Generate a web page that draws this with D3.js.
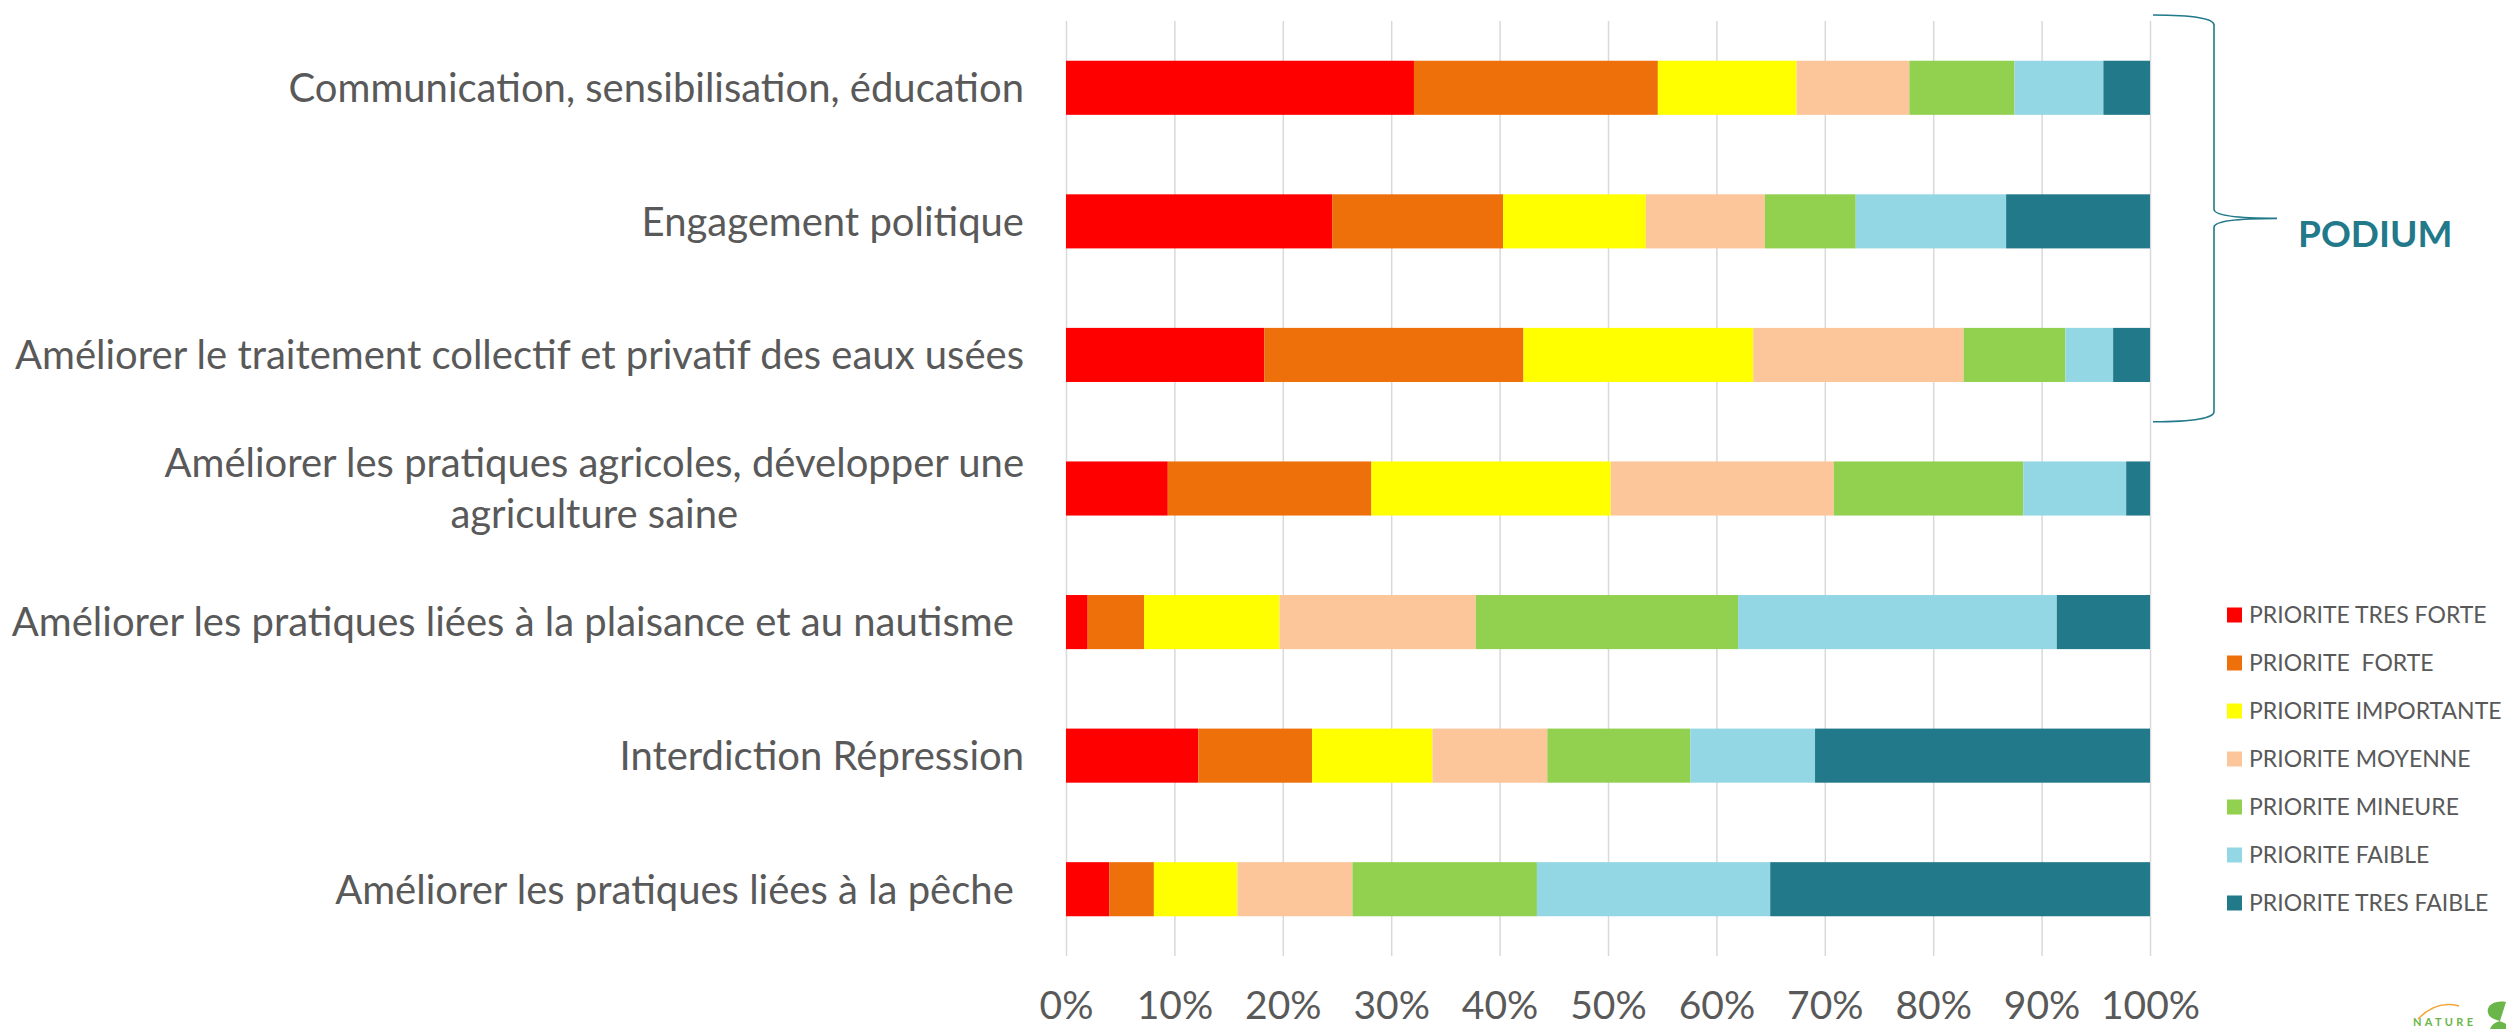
<!DOCTYPE html>
<html><head><meta charset="utf-8">
<script src="https://cdn.jsdelivr.net/npm/d3@7"></script>
<style>
body{margin:0;background:#fff}
svg{display:block}
text{font-family:Lato,'Open Sans',sans-serif;fill:#595959}
</style></head>
<body><svg id="c" width="2506" height="1029"></svg>
<script>
const categories = [
  "Communication, sensibilisation, éducation",
  "Engagement politique",
  "Améliorer le traitement collectif et privatif des eaux usées",
  "Améliorer les pratiques agricoles, développer une\nagriculture saine",
  "Améliorer les pratiques liées à la plaisance et au nautisme ",
  "Interdiction Répression",
  "Améliorer les pratiques liées à la pêche "
];
const seriesNames = ["PRIORITE TRES FORTE","PRIORITE  FORTE","PRIORITE IMPORTANTE","PRIORITE MOYENNE","PRIORITE MINEURE","PRIORITE FAIBLE","PRIORITE TRES FAIBLE"];
const seriesColors = ["#FF0000","#EE700A","#FFFF00","#FCC59A","#92D050","#93D7E4","#21798A"];
const tresForte   = [32.1, 24.6, 18.3,  9.4,  2.0, 12.2,  4.0];
const forte       = [22.5, 15.8, 23.9, 18.8,  5.2, 10.5,  4.1];
const importante  = [12.8, 13.2, 21.2, 22.1, 12.5, 11.1,  7.7];
const moyenne     = [10.4, 11.0, 19.4, 20.6, 18.1, 10.6, 10.6];
const mineure     = [ 9.7,  8.4,  9.4, 17.5, 24.2, 13.2, 17.0];
const faible      = [ 8.2, 13.9,  4.4,  9.5, 29.4, 11.5, 21.5];
const tresFaible  = [ 4.3, 13.3,  3.4,  2.2,  8.6, 30.9, 35.0];
const tickValues = [0,0.1,0.2,0.3,0.4,0.5,0.6,0.7,0.8,0.9,1];
const podiumLabel = "PODIUM";
const podiumCount = 3;

const seriesArrays = [tresForte, forte, importante, moyenne, mineure, faible, tresFaible];
const table = categories.map((c,i)=>{
  const row = {cat:c};
  seriesNames.forEach((s,j)=>row[s]=seriesArrays[j][i]);
  return row;
});

const svg = d3.select("#c");
const x = d3.scaleLinear().domain([0,1]).range([1066,2150]);
const y = d3.scaleBand().domain(categories).range([21,956]).paddingInner(0.595).paddingOuter(0.2975);
const color = d3.scaleOrdinal().domain(seriesNames).range(seriesColors);

// gridlines
const grid = svg.append("g").attr("transform","translate(0,21)")
  .call(d3.axisTop(x).tickValues(tickValues).tickSize(-935).tickFormat(""));
grid.select(".domain").remove();
grid.selectAll("line").attr("stroke","#D9D9D9").attr("stroke-width",1.5);

// bars
const stack = d3.stack().keys(seriesNames).offset(d3.stackOffsetExpand);
const layers = stack(table);
svg.append("g").selectAll("g").data(layers).join("g")
  .attr("fill",d=>color(d.key))
  .selectAll("rect").data(d=>d).join("rect")
  .attr("x",d=>x(d[0]))
  .attr("width",d=>x(d[1])-x(d[0]))
  .attr("y",d=>y(d.data.cat))
  .attr("height",y.bandwidth());

// x axis labels
const xa = svg.append("g").attr("transform","translate(0,1019)")
  .call(d3.axisBottom(x).tickValues(tickValues).tickSize(0).tickPadding(0).tickFormat(d3.format(".0%")));
xa.select(".domain").remove();
xa.selectAll("text").attr("font-size",39).attr("font-family","Lato").attr("fill","#595959").attr("dy",0);

// category labels
const labelRight = 1024;
const lineH = 51;
const fs = 40;
const lg = svg.append("g");
categories.forEach(c=>{
  const lines = c.split("\n");
  const cy = y(c)+y.bandwidth()/2;
  if(lines.length===1){
    lg.append("text").attr("x",labelRight).attr("y",cy).attr("dy","0.36em")
      .attr("text-anchor","end").attr("font-size",fs).style("white-space","pre").text(c);
  } else {
    const t = lg.append("text").attr("font-size",fs).attr("text-anchor","middle");
    lines.forEach((l,i)=>{
      t.append("tspan").attr("y",cy+(i-(lines.length-1)/2)*lineH).attr("dy","0.36em").text(l);
    });
    let w=0; t.selectAll("tspan").each(function(){w=Math.max(w,this.getComputedTextLength());});
    t.selectAll("tspan").attr("x",labelRight-w/2);
  }
});

// legend
const leg = svg.append("g").attr("transform","translate(2227,615)");
seriesNames.forEach((s,i)=>{
  const g = leg.append("g").attr("transform",`translate(0,${i*48})`);
  g.append("rect").attr("x",0).attr("y",-7.5).attr("width",15).attr("height",15).attr("fill",color(s));
  g.append("text").attr("x",22).attr("y",0).attr("dy","0.36em").attr("font-size",23).style("white-space","pre").text(s);
});

// brace
const bTop = y(categories[0]) - y.step()*y.paddingInner()/2 - 6;
const bBot = y(categories[podiumCount-1]) + y.bandwidth() + y.step()*y.paddingInner()/2;
const bx0 = 2153, bx1 = 2214, tipX = 2277, mid = (bTop+bBot)/2;
const p = d3.path();
p.moveTo(bx0,bTop);
p.bezierCurveTo(bx0+42,bTop,bx1,bTop+4,bx1,bTop+10);
p.lineTo(bx1,mid-9);
p.bezierCurveTo(bx1,mid-3,bx1+21,mid,tipX,mid);
p.moveTo(tipX,mid);
p.bezierCurveTo(bx1+21,mid,bx1,mid+3,bx1,mid+9);
p.lineTo(bx1,bBot-10);
p.bezierCurveTo(bx1,bBot-4,bx0+42,bBot,bx0,bBot);
svg.append("path").attr("d",p.toString()).attr("fill","none").attr("stroke","#21798A").attr("stroke-width",1.6);
svg.append("text").attr("x",2298).attr("y",mid+29).attr("font-size",37).attr("font-weight",700)
  .style("fill","#21798A").text(podiumLabel);

// logo fragment (bottom right)
const logo = svg.append("g");
logo.append("path").attr("d","M2418,1019 Q2436,1000 2459,1006").attr("fill","none").attr("stroke","#F4A636").attr("stroke-width",1.5);
logo.append("text").attr("x",2413).attr("y",1026).attr("font-size",11).attr("font-weight",700)
  .style("fill","#6BB64A").attr("textLength",60).text("NATURE");
logo.append("path").attr("d","M2506,1002 C2494,1000 2486,1006 2488,1013 C2490,1020 2500,1020 2506,1024 L2506,1029 L2490,1029 C2492,1024 2496,1022 2500,1021")
  .attr("fill","#6BB64A");
</script></body></html>
